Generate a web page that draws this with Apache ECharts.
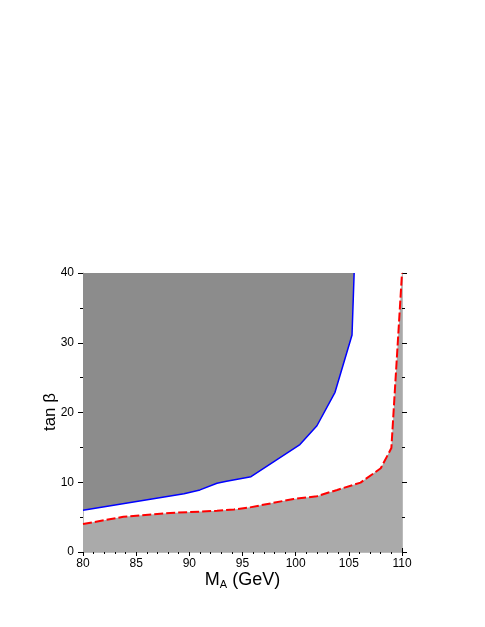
<!DOCTYPE html>
<html>
<head>
<meta charset="utf-8">
<script src="https://cdn.jsdelivr.net/npm/echarts@6/dist/echarts.min.js"></script>
<style>
  html, body { margin: 0; padding: 0; background: #fff; }
  #chart { width: 485px; height: 627px; }
</style>
</head>
<body>
<div id="chart"></div>
<script>
// blue excluded-region boundary (upper left, dark gray)
var blueMA   = [80, 89.5, 91.0, 92.6, 93.5, 95.8, 100.4, 102.0, 103.7, 105.3, 105.5];
var blueTanb = [6.0, 8.35, 8.9, 9.85, 10.15, 10.8, 15.4, 18.1, 22.9, 31.1, 40];
// red dashed boundary (lower, light gray)
var redMA    = [80, 83.8, 88.2, 92.6, 94.2, 95.7, 99.8, 102.0, 103.9, 106.1, 108.0, 109.0, 110];
var redTanb  = [4.0, 5.05, 5.6, 5.9, 6.1, 6.4, 7.6, 8.0, 8.9, 9.95, 12.0, 14.9, 40];

function pairs(xs, ys) {
  return xs.map(function (x, i) { return [x, ys[i]]; });
}

var myChart = echarts.init(document.getElementById('chart'));

var tickStyle = { color: '#000', width: 1 };
var lineStyle = { color: '#bbb', width: 1 };
var labelFont = { color: '#000', fontSize: 12, fontFamily: 'Liberation Sans' };

var option = {
  animation: false,
  grid: { left: 83, right: 83, top: 273, bottom: 75, containLabel: false },
  graphic: [
    {
      type: 'text', x: 50, y: 412, rotation: Math.PI / 2,
      style: {
        text: 'tan β', fontSize: 17, fontFamily: 'Liberation Sans', fill: '#000',
        align: 'center', verticalAlign: 'middle'
      }
    }
  ],
  xAxis: [
    {
      type: 'value', min: 80, max: 110, interval: 5, position: 'bottom',
      splitLine: { show: false },
      axisLine: { show: true, lineStyle: lineStyle },
      axisTick: { show: true, inside: false, length: 4, lineStyle: tickStyle },
      minorTick: { show: true, splitNumber: 5, length: 2, lineStyle: tickStyle },
      axisLabel: Object.assign({ margin: 6 }, labelFont),
      name: '{m|M}{s|A}{m| (GeV)}',
      nameLocation: 'middle', nameGap: 14,
      nameTextStyle: {
        rich: {
          m: { fontSize: 18, fontFamily: 'Liberation Sans', color: '#000' },
          s: { fontSize: 11, fontFamily: 'Liberation Sans', color: '#000', padding: [10, 0, 0, 0] }
        }
      }
    },
    {
      type: 'value', min: 80, max: 110, interval: 5, position: 'top',
      splitLine: { show: false },
      axisLine: { show: true, lineStyle: lineStyle },
      axisTick: { show: true, inside: false, length: 4, lineStyle: tickStyle },
      minorTick: { show: true, splitNumber: 5, length: 2, lineStyle: tickStyle },
      axisLabel: { show: false }
    }
  ],
  yAxis: [
    {
      type: 'value', min: 0, max: 40, interval: 10, position: 'left',
      splitLine: { show: false },
      axisLine: { show: true, lineStyle: lineStyle },
      axisTick: { show: true, inside: false, length: 5, lineStyle: tickStyle },
      minorTick: { show: true, splitNumber: 2, length: 3, lineStyle: tickStyle },
      axisLabel: Object.assign({ margin: 9 }, labelFont)
    },
    {
      type: 'value', min: 0, max: 40, interval: 10, position: 'right',
      splitLine: { show: false },
      axisLine: { show: true, lineStyle: lineStyle },
      axisTick: { show: true, inside: false, length: 5, lineStyle: tickStyle },
      minorTick: { show: true, splitNumber: 2, length: 3, lineStyle: tickStyle },
      axisLabel: { show: false }
    }
  ],
  series: [
    {
      type: 'line',
      data: pairs(blueMA, blueTanb),
      showSymbol: false,
      lineStyle: { color: '#0000ff', width: 1.5 },
      areaStyle: { origin: 'end', color: '#8c8c8c', opacity: 1 },
      z: 3
    },
    {
      type: 'line',
      data: pairs(redMA, redTanb),
      showSymbol: false,
      lineStyle: { color: '#ff0000', width: 2, type: [9, 3] },
      areaStyle: { origin: 'start', color: '#aaaaaa', opacity: 1 },
      z: 3
    }
  ]
};

myChart.setOption(option);
</script>
</body>
</html>
